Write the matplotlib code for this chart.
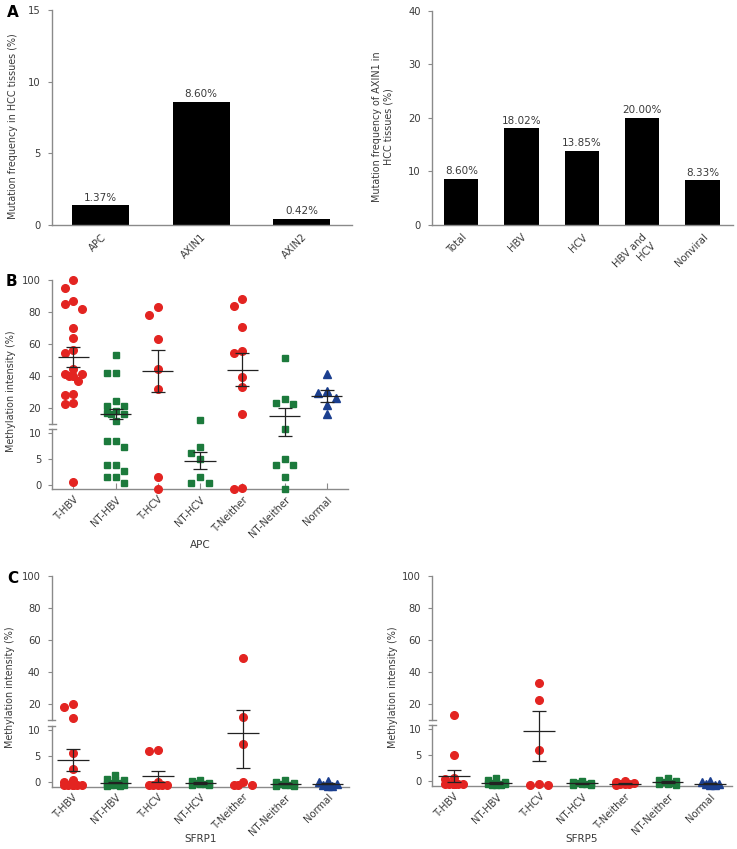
import matplotlib
matplotlib.use("Agg")
import matplotlib.pyplot as plt
import numpy as np

plt.rcParams["font.family"] = ["DejaVu Sans"]
plt.rcParams["font.size"] = 7

# --- panel A data ---
gene_names = ["APC", "AXIN1", "AXIN2"]
gene_mut_freq = [1.37, 8.60, 0.42]
virus_groups = ["Total", "HBV", "HCV", "HBV and\nHCV", "Nonviral"]
axin1_mut_freq = [8.60, 18.02, 13.85, 20.00, 8.33]

# --- methylation groups ---
groups = ["T-HBV", "NT-HBV", "T-HCV", "NT-HCV", "T-Neither", "NT-Neither", "Normal"]

# APC methylation (%)
apc_t_hbv = [100, 95, 87, 85, 82, 70, 63.5, 56, 54, 44.5, 41, 41, 40, 40, 37, 28.5, 28, 23, 22.5, 0.5]
apc_nt_hbv = [53, 42, 42, 24, 21, 21, 18, 17, 16, 16, 12, 8.5, 8.5, 7.4, 3.9, 3.9, 2.7, 1.5, 1.5, 0.3]
apc_t_hcv = [83, 78, 63, 44, 32, 1.5, -0.7]
apc_nt_hcv = [12.2, 7.4, 6.1, 5.0, 1.5, 0.3, 0.3]
apc_t_neither = [88, 84, 70.5, 55.6, 54.2, 39.1, 32.8, 16, -0.7, -0.6]
apc_nt_neither = [51, 25.2, 23.1, 22.1, 10.8, 5.0, 3.9, 3.9, 1.5, -0.7]
apc_normal = [41, 30.7, 29, 25.9, 21.7, 15.8]

# SFRP1 methylation (%)
sfrp1_t_hbv = [20, 17.9, 11.5, 5.6, 2.5, 0.3, -0.1, -0.7, -0.7, -0.7, -0.7, -0.7, -0.7]
sfrp1_nt_hbv = [1.3, 0.4, 0.3, 0.2, -0.2, -0.3, -0.5, -0.6, -0.7, -0.7, -0.8, -0.8]
sfrp1_t_hcv = [6.0, 5.8, -0.1, -0.7, -0.7, -0.7, -0.7, -0.7]
sfrp1_nt_hcv = [0.2, 0.1, -0.2, -0.3, -0.4, -0.5, -0.6, -0.7]
sfrp1_t_neither = [48.6, 11.7, 7.2, 0.0, -0.7, -0.7, -0.7]
sfrp1_nt_neither = [0.3, 0.0, -0.3, -0.5, -0.6, -0.7, -0.8, -0.8]
sfrp1_normal = [0.1, 0.0, -0.4, -0.6, -0.8, -0.8]

# SFRP5 methylation (%)
sfrp5_t_hbv = [13.2, 5.0, 0.5, 0.3, -0.7, -0.7, -0.7, -0.7, -0.7, -0.7, -0.7, -0.7, -0.7]
sfrp5_nt_hbv = [0.6, 0.1, -0.2, -0.4, -0.5, -0.6, -0.7, -0.7, -0.8, -0.8, -0.8]
sfrp5_t_hcv = [32.6, 22.1, 5.9, -0.6, -0.8, -0.8]
sfrp5_nt_hcv = [0.0, -0.2, -0.4, -0.5, -0.6, -0.7, -0.8, -0.8]
sfrp5_t_neither = [-0.1, -0.3, -0.5, -0.6, -0.7, -0.7, -0.8]
sfrp5_nt_neither = [0.5, 0.2, -0.1, -0.3, -0.4, -0.6, -0.7, -0.8]
sfrp5_normal = [0.0, -0.3, -0.6, -0.7, -0.8, -0.8]

RED = "#e32421"
GREEN = "#1c7a3c"
BLUE = "#1b3f8f"
SPINE = "#8a8a8a"
TEXT = "#3a3a3a"
group_colors = [RED, GREEN, RED, GREEN, RED, GREEN, BLUE]
group_markers = ["o", "s", "o", "s", "o", "s", "^"]
group_msize = [5.5, 5.0, 5.5, 5.0, 5.5, 5.0, 6.0]

# broken y axis: 0-10 on a stretched segment, 10-100 compressed above it
LOW_TOP = 10.8
UP_ORIGIN = 14.97
UP_RATIO = 0.31


def fwd(y):
    y = np.asarray(y, dtype=float)
    return np.where(y <= LOW_TOP, y, UP_ORIGIN + (y - 20) * UP_RATIO)


def inv(v):
    v = np.asarray(v, dtype=float)
    up = 20 + (v - UP_ORIGIN) / UP_RATIO
    return np.where(v <= LOW_TOP, v, np.maximum(up, LOW_TOP))


def style_axes(ax):
    for s in ("top", "right"):
        ax.spines[s].set_visible(False)
    for s in ("left", "bottom"):
        ax.spines[s].set_color(SPINE)
        ax.spines[s].set_linewidth(1.0)
    ax.tick_params(axis="y", direction="out", length=3, width=0.8, color=SPINE,
                   labelcolor=TEXT, labelsize=7.2, pad=5)
    ax.tick_params(axis="x", labelcolor=TEXT, labelsize=7.2)


def bar_panel(ax, cats, vals, ymax, yticks, ylabel, label_x):
    style_axes(ax)
    x = np.arange(len(cats))
    bars = ax.bar(x, vals, width=0.57, color="black")
    ax.bar_label(bars, labels=[f"{v:.2f}%" for v in vals], padding=2, fontsize=7.5, color=TEXT)
    ax.set_xlim(-0.49, len(cats) - 0.5)
    ax.set_ylim(0, ymax)
    ax.set_yticks(yticks)
    ax.set_xticks(x)
    ax.set_xticklabels(cats, rotation=45, ha="right", rotation_mode="anchor")
    ax.tick_params(axis="x", length=0, pad=5)
    ax.set_ylabel(ylabel, fontsize=6.9, color=TEXT)
    ax.yaxis.set_label_coords(label_x, 0.46)


def swarm_x(ax, xc, vals, diam_px, step_px):
    vals = np.asarray(vals, dtype=float)
    pts = ax.transData.transform(np.column_stack([np.full(vals.size, xc), vals]))
    ypx = pts[:, 1]
    px_per_cat = ax.transData.transform([[xc + 1, 0]])[0, 0] - ax.transData.transform([[xc, 0]])[0, 0]
    cands = np.array([0, -1, 1, -0.5, 0.5]) * step_px
    placed = []
    offs = np.zeros(vals.size)
    for i in np.argsort(-vals, kind="stable"):
        best, best_d = 0.0, -1.0
        for c in cands:
            d = min((np.hypot(c - px, ypx[i] - py) for px, py in placed), default=np.inf)
            if d >= diam_px:
                best = c
                break
            if d > best_d:
                best, best_d = c, d
        offs[i] = best
        placed.append((best, ypx[i]))
    return xc + offs / px_per_cat


def scatter_panel(ax, data, ymin, xlabel, ylabel_x, xlabel_y):
    style_axes(ax)
    ax.set_yscale("function", functions=(fwd, inv))
    ax.set_xlim(-0.5, len(groups) - 0.5)
    ax.set_ylim(ymin, 100)
    ax.set_yticks([0, 5, 10, 20, 40, 60, 80, 100])
    ax.set_xticks(np.arange(len(groups)))
    ax.set_xticklabels(groups, rotation=45, ha="right", rotation_mode="anchor")
    ax.tick_params(axis="x", direction="in", length=4, color=SPINE, pad=4)

    # broken left spine with small break marks
    ax.spines["left"].set_visible(False)
    v0, v1 = fwd(ymin), fwd(100)
    lo_top = float((LOW_TOP - v0) / (v1 - v0))
    up_bot = float((11.8 - v0) / (v1 - v0))
    ax.plot([0, 0], [0, lo_top], transform=ax.transAxes, color=SPINE, lw=1.0, clip_on=False)
    ax.plot([0, 0], [up_bot, 1], transform=ax.transAxes, color=SPINE, lw=1.0, clip_on=False)
    for f in (lo_top, up_bot):
        ax.plot([-0.011, 0.011], [f, f], transform=ax.transAxes, color=SPINE, lw=1.0, clip_on=False)

    for i, vals in enumerate(data):
        xs = swarm_x(ax, i, vals, diam_px=8.4, step_px=8.8)
        ax.plot(xs, vals, linestyle="none", marker=group_markers[i], ms=group_msize[i],
                color=group_colors[i], mec=group_colors[i], clip_on=False, zorder=3)
        m = np.mean(vals)
        sem = np.std(vals, ddof=1) / np.sqrt(len(vals))
        ax.hlines(m, i - 0.37, i + 0.37, color="#222222", lw=0.9, zorder=4)
        ax.errorbar(i, m, yerr=sem, fmt="none", ecolor="#222222", elinewidth=0.9,
                    capsize=5.2, capthick=0.9, zorder=4)

    ax.set_ylabel("Methylation intensity (%)", fontsize=6.9, color=TEXT)
    ax.yaxis.set_label_coords(ylabel_x, 0.47)
    ax.text(0.5, xlabel_y, xlabel, transform=ax.transAxes, ha="center", va="center",
            fontsize=7.5, color=TEXT)


fig = plt.figure(figsize=(7.37, 8.49), dpi=100)
axA1 = fig.add_axes([0.0701, 0.735, 0.407, 0.2532])
axA2 = fig.add_axes([0.5858, 0.735, 0.4084, 0.2524])
axB = fig.add_axes([0.071, 0.424, 0.401, 0.2462])
axC1 = fig.add_axes([0.0701, 0.0734, 0.4034, 0.2485])
axC2 = fig.add_axes([0.5866, 0.0742, 0.4062, 0.2477])

bar_panel(axA1, gene_names, gene_mut_freq, 15, [0, 5, 10, 15],
          "Mutation frequency in HCC tissues (%)", -0.113)
bar_panel(axA2, virus_groups, axin1_mut_freq, 40, [0, 10, 20, 30, 40],
          "Mutation frequency of AXIN1 in\nHCC tissues (%)", -0.127)

apc_data = [apc_t_hbv, apc_nt_hbv, apc_t_hcv, apc_nt_hcv, apc_t_neither, apc_nt_neither, apc_normal]
sfrp1_data = [sfrp1_t_hbv, sfrp1_nt_hbv, sfrp1_t_hcv, sfrp1_nt_hcv, sfrp1_t_neither,
              sfrp1_nt_neither, sfrp1_normal]
sfrp5_data = [sfrp5_t_hbv, sfrp5_nt_hbv, sfrp5_t_hcv, sfrp5_nt_hcv, sfrp5_t_neither,
              sfrp5_nt_neither, sfrp5_normal]

scatter_panel(axB, apc_data, -0.8, "APC", -0.123, -0.268)
scatter_panel(axC1, sfrp1_data, -1.0, "SFRP1", -0.123, -0.248)
scatter_panel(axC2, sfrp5_data, -1.0, "SFRP5", -0.113, -0.25)

for lbl, (x, y) in {"A": (0.010, 0.985), "B": (0.008, 0.668), "C": (0.010, 0.319)}.items():
    fig.text(x, y, lbl, fontsize=11, fontweight="bold", color="black", ha="left", va="center")

fig.savefig("out.png", dpi=100)
